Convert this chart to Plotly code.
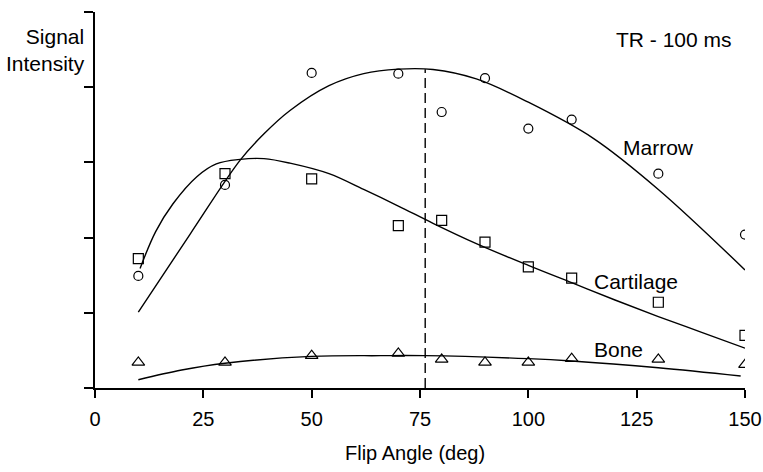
import plotly.graph_objects as go

# Measured points
flip_angle = [10, 30, 50, 70, 80, 90, 100, 110, 130, 150]
marrow_pts = [1.49, 2.70, 4.19, 4.18, 3.67, 4.12, 3.45, 3.57, 2.85, 2.04]
cartilage_pts = [1.72, 2.85, 2.78, 2.16, 2.23, 1.94, 1.61, 1.46, 1.14, 0.70]
bone_pts = [0.34, 0.34, 0.43, 0.46, 0.38, 0.34, 0.34, 0.39, 0.38, 0.31]

# Fitted curves
marrow_fit_x = [10, 22, 33.5, 39, 45, 54, 62, 70, 78, 88, 100, 115, 130, 150]
marrow_fit_y = [1.01, 2.05, 3.03, 3.38, 3.69, 4.02, 4.18, 4.24, 4.235, 4.11, 3.80, 3.32, 2.64, 1.57]
cart_fit_x = [10.4, 14, 18, 23.5, 28, 33.5, 39, 45, 54, 62, 70, 78, 88, 100, 110, 120, 130, 140, 150]
cart_fit_y = [1.59, 2.08, 2.45, 2.81, 2.98, 3.04, 3.05, 2.99, 2.85, 2.64, 2.42, 2.19, 1.92, 1.63, 1.40, 1.17, 0.95, 0.74, 0.53]
bone_fit_x = [10, 20, 30, 50, 66, 76, 100, 110, 130, 149]
bone_fit_y = [0.11, 0.24, 0.33, 0.42, 0.43, 0.43, 0.39, 0.36, 0.27, 0.16]

tr_angle = 76.2
x_ticks = [0, 25, 50, 75, 100, 125, 150]

FONT = "Liberation Sans, Arial, Helvetica, sans-serif"

fig = go.Figure()

line_style = dict(color="black", width=1.4, shape="spline", smoothing=1.0)
fig.add_trace(go.Scatter(x=marrow_fit_x, y=marrow_fit_y, mode="lines", line=line_style, hoverinfo="skip"))
fig.add_trace(go.Scatter(x=cart_fit_x, y=cart_fit_y, mode="lines", line=line_style, hoverinfo="skip"))
fig.add_trace(go.Scatter(x=bone_fit_x, y=bone_fit_y, mode="lines", line=line_style, hoverinfo="skip"))

fig.add_trace(go.Scatter(x=flip_angle, y=marrow_pts, mode="markers",
                         marker=dict(symbol="circle-open", size=9, color="black", line=dict(width=1.2))))
fig.add_trace(go.Scatter(x=flip_angle, y=cartilage_pts, mode="markers",
                         marker=dict(symbol="square-open", size=10, color="black", line=dict(width=1.2))))
fig.add_trace(go.Scatter(x=flip_angle, y=bone_pts, mode="markers",
                         marker=dict(symbol="triangle-up-open", size=11, color="black", line=dict(width=1.2))))

# vertical dashed line at optimal angle
fig.add_trace(go.Scatter(x=[tr_angle, tr_angle], y=[0, 4.24], mode="lines",
                         line=dict(color="black", width=1.4, dash="10px,5px"), hoverinfo="skip"))

fig.update_layout(
    width=763, height=472,
    margin=dict(l=95, r=18, t=12, b=84),
    paper_bgcolor="white", plot_bgcolor="white",
    showlegend=False,
    font=dict(family=FONT, color="black", size=20),
    xaxis=dict(range=[0, 150], tickvals=x_ticks, showgrid=False, zeroline=False,
               showline=True, linecolor="black", linewidth=1.5,
               ticks="outside", ticklen=8, tickwidth=1.5, tickcolor="black",
               tickfont=dict(size=20), automargin=False, ticklabelstandoff=4),
    yaxis=dict(range=[0, 5], tickvals=[0, 1, 2, 3, 4, 5], showticklabels=False,
               showgrid=False, zeroline=False, automargin=False,
               showline=True, linecolor="black", linewidth=1.5,
               ticks="outside", ticklen=9, tickwidth=1.5, tickcolor="black"),
    annotations=[
        dict(text="Flip Angle (deg)", xref="paper", yref="paper", x=0.492, y=0,
             xanchor="center", yanchor="middle", yshift=-65, showarrow=False,
             font=dict(size=20)),
        dict(text="Signal<br>Intensity", xref="paper", yref="paper", x=-0.012, y=0.900,
             xanchor="right", yanchor="middle", showarrow=False, align="right",
             font=dict(size=21)),
        dict(text="TR - 100 ms", x=133.5, y=4.64, showarrow=False, font=dict(size=21)),
        dict(text="Marrow", x=130, y=3.2, showarrow=False, font=dict(size=21)),
        dict(text="Cartilage", x=124.9, y=1.41, showarrow=False, font=dict(size=21)),
        dict(text="Bone", x=120.8, y=0.51, showarrow=False, font=dict(size=21)),
    ],
)

fig.write_html("out.html", config={"displayModeBar": False},
               post_script="document.body.style.margin='0';document.body.style.overflow='hidden';")
